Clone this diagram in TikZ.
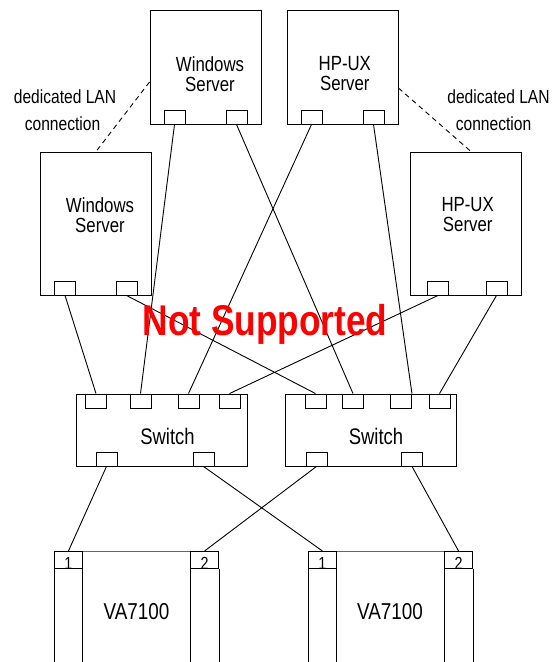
\documentclass[tikz,border=0pt]{standalone}
\usepackage{fontspec}
\setmainfont{Liberation Sans}[FakeStretch=0.82]
\usepackage{tikz}
\usetikzlibrary{positioning}

\begin{document}
\begin{tikzpicture}[x=1pt,y=-1pt,line width=0.9pt]
        \tikzstyle{server}=[draw,minimum width=111pt,minimum height=114pt,inner sep=0pt]
        \tikzstyle{port}=[draw,minimum width=21pt,minimum height=14pt,inner sep=0pt]
        \tikzstyle{switch}=[draw,minimum width=171pt,minimum height=72pt,inner sep=0pt]
        \tikzstyle{portno}=[draw,minimum width=28pt,minimum height=17pt,inner sep=0pt]
        \tikzstyle{numlabel}=[inner sep=0pt,anchor=base,yshift=-1pt,font=\fontsize{17.5}{17.5}\selectfont]
        \tikzstyle{srvlabel}=[align=center,inner sep=0pt,font=\fontsize{20.5}{20}\selectfont]
        \tikzstyle{swlabel}=[inner sep=0pt,font=\fontsize{22.5}{22.5}\selectfont]
        \tikzstyle{lan}=[inner sep=0pt,anchor=base,font=\fontsize{19}{19}\selectfont]
        \useasboundingbox (0,0) rectangle (556,662);

        % servers
        \node[server,label={[srvlabel,xshift=4.5pt,yshift=-7pt]center:Windows\\Server}] (Ws1) at (205.5,67) {};
        \node[server,label={[srvlabel,xshift=2.3pt,yshift=-7pt]center:HP-UX\\Server}] (Hp1) at (342.5,67) {};
        \node[server,minimum height=143pt,label={[srvlabel,xshift=4pt,yshift=8.5pt]center:Windows\\Server}] (Ws2) at (96,223.5) {};
        \node[server,minimum height=143pt,label={[srvlabel,xshift=1.7pt,yshift=8.5pt]center:HP-UX\\Server}] (Hp2) at (466,223.5) {};
        \foreach \s/\l/\r in {Ws1/-31/31,Hp1/-31/31,Ws2/-31/30.5,Hp2/-28/30.5}{
            \node[port,anchor=south] (\s-a) at ([xshift=\l pt]\s.south) {};
            \node[port,anchor=south] (\s-b) at ([xshift=\r pt]\s.south) {};
        }

        % switches
        \node[switch,label={[swlabel,xshift=6pt,yshift=-6pt]center:Switch}] (SwA) at (161.5,430) {};
        \node[switch,label={[swlabel,xshift=5pt,yshift=-6pt]center:Switch}] (SwB) at (371,430) {};
        \foreach \i/\dx in {1/-65.5,2/-21,3/27,4/68}
            \node[port,anchor=north] (SwA-\i) at ([xshift=\dx pt]SwA.north) {};
        \foreach \i/\dx in {1/-55.5,2/-18,3/30,4/68.5}
            \node[port,anchor=north] (SwB-\i) at ([xshift=\dx pt]SwB.north) {};
        \foreach \sw/\l/\r in {SwA/-55/42,SwB/-54.5/41}{
            \node[port,anchor=south] (\sw-d1) at ([xshift=\l pt]\sw.south) {};
            \node[port,anchor=south] (\sw-d2) at ([xshift=\r pt]\sw.south) {};
        }

        % arrays
        \node[portno,anchor=north west,label={[numlabel]south:1}] (VaA-1) at (54,551) {};
        \node[portno,anchor=north east,label={[numlabel]south:2}] (VaA-2) at (219,551) {};
        \node[portno,anchor=north west,label={[numlabel]south:1}] (VaB-1) at (308,551) {};
        \node[portno,anchor=north east,label={[numlabel]south:2}] (VaB-2) at (473,551) {};
        \foreach \p in {VaA-1,VaA-2,VaB-1,VaB-2}
            \draw (\p.south west) -- ++(0,120) (\p.south east) -- ++(0,120);
        \draw[black!60] (VaA-1.north east) -- (VaA-2.north west);
        \draw[black!60] (VaB-1.north east) -- (VaB-2.north west);
        \node[swlabel,font=\fontsize{23}{23}\selectfont,anchor=base] (VaA) at (136.5,619) {VA7100};
        \node[swlabel,font=\fontsize{23}{23}\selectfont,anchor=base] (VaB) at (390,619) {VA7100};

        % links
        \path[draw]
        (Ws1-a.south) edge (SwA-2.north)
        (Ws1-b.south) edge (SwB-2.north)
        (Hp1-a.south) edge (SwA-3.north)
        (Hp1-b.south) edge (SwB-3.north east)
        (Ws2-a.south) edge (SwA-1.north)
        (Ws2-b.south) edge (SwB-1.north)
        (Hp2-a.south) edge (SwA-4.north)
        (Hp2-b.south) edge (SwB-4.north)
        (SwA-d1.south) edge (VaA-1.north)
        (SwA-d2.south) edge (VaB-1.north)
        (SwB-d1.south) edge (VaA-2.north)
        (SwB-d2.south) edge (VaB-2.north);

        % dedicated LAN
        \draw[dash pattern=on 5pt off 4pt] ([yshift=-15pt]Ws1.west) -- (Ws2.north);
        \draw[dash pattern=on 5pt off 4pt] ([yshift=-21pt]Hp1.east) -- ([xshift=5pt]Hp2.north);
        \node[lan] (lanA1) at (65,103) {dedicated LAN};
        \node[lan] (lanA2) at (62.5,130) {connection};
        \node[lan] (lanB1) at (498.5,103) {dedicated LAN};
        \node[lan] (lanB2) at (493.5,130) {connection};

        \node[text=red,inner sep=0pt,anchor=base,font=\bfseries\fontsize{43}{43}\selectfont] (nsup) at (265,335) {Not Supported};
    \end{tikzpicture}
\end{document}
